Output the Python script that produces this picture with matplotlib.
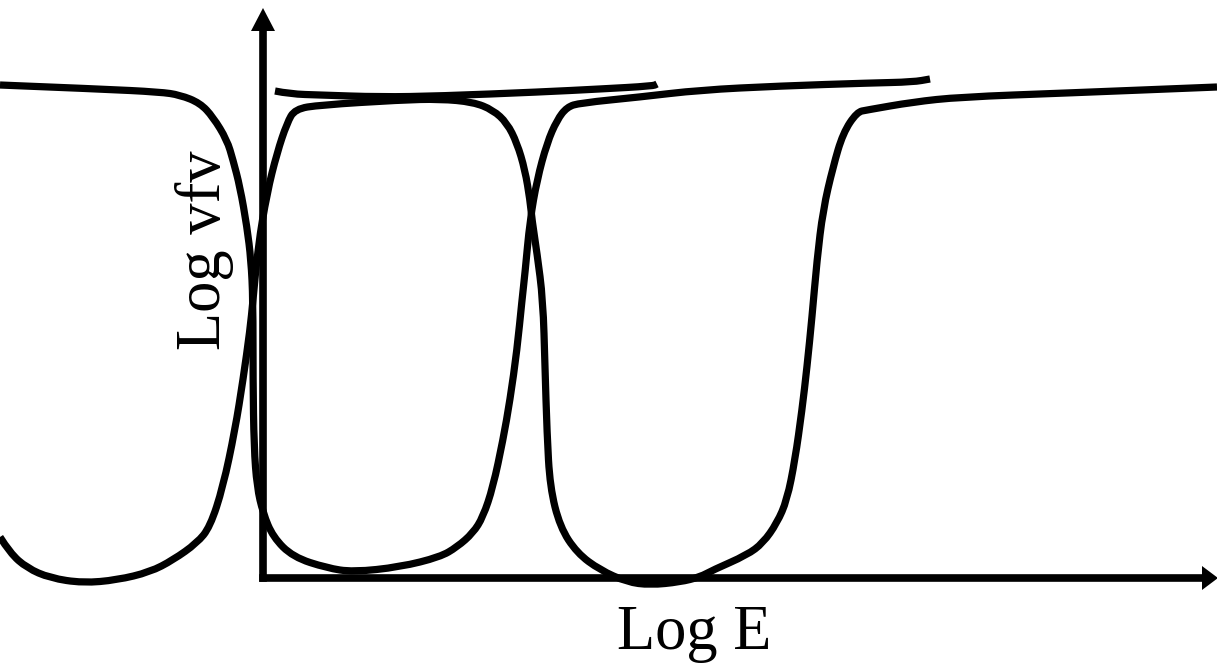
import matplotlib
matplotlib.use("Agg")
import matplotlib.pyplot as plt
from matplotlib.path import Path
from matplotlib.patches import PathPatch

plt.rcParams['font.family'] = ['Liberation Serif', 'DejaVu Serif']

# ---- data (schematic coordinates, image-pixel units) ----
curve_a_x = [0, 100, 160, 180, 200, 213, 227, 233, 240, 247, 251, 253, 253, 254, 257, 263, 273,
             293, 327, 353, 400, 440, 457, 473, 483, 493, 503, 510, 517, 522, 525, 530, 537,
             547, 557, 567, 580, 640, 700, 780, 870, 913, 930]
curve_a_y = [85, 89, 92, 95, 103, 117, 140, 160, 187, 227, 260, 300, 380, 447, 487, 513, 537,
             557, 568, 572, 567, 557, 547, 533, 517, 487, 440, 400, 350, 300, 273, 220, 180,
             143, 120, 107, 103, 97, 90, 86, 83, 82, 79]

curve_b_x = [0, 10, 27, 50, 83, 117, 150, 173, 197, 210, 223, 235, 243, 250, 253, 258, 267,
             277, 287, 295, 320, 400, 440, 473, 493, 507, 517, 525, 530, 532, 537, 543, 545,
             547, 550, 560, 577, 600, 627, 650, 680, 700, 713, 747, 763, 777, 787, 795, 802,
             807, 812, 817, 823, 833, 843, 857, 867, 913, 960, 1067, 1217]
curve_b_y = [537, 553, 568, 578, 583, 580, 572, 560, 543, 527, 487, 430, 380, 330, 300, 247, 193,
             153, 123, 109, 105, 100, 99, 102, 110, 123, 143, 170, 200, 220, 253, 300, 367,
             433, 487, 527, 553, 570, 582, 585, 582, 577, 570, 555, 543, 523, 500, 460, 410,
             367, 317, 260, 210, 167, 133, 112, 110, 102, 97, 93, 87]

line_t_x = [275, 290, 320, 380, 440, 540, 600, 653, 657]
line_t_y = [91, 94, 95, 97, 96, 92, 89, 86, 84]

# axes geometry (origin, ends)
axis_origin = (263, 578)
y_axis_tip = 8
x_axis_tip = 1217
arrow_len = 23
arrow_halfw = 12

x_label = "Log E"
y_label = "Log vfv"


def smooth_path(xs, ys):
    """Path through the read points, drawn with quadratic Bezier segments."""
    pts = list(zip(xs, ys))
    verts = [pts[0]]
    codes = [Path.MOVETO]
    for i in range(1, len(pts) - 1):
        mid = ((pts[i][0] + pts[i + 1][0]) / 2, (pts[i][1] + pts[i + 1][1]) / 2)
        verts += [pts[i], mid]
        codes += [Path.CURVE3, Path.CURVE3]
    verts.append(pts[-1])
    codes.append(Path.LINETO)
    return Path(verts, codes)


# ---- figure ----
fig = plt.figure(figsize=(12.17, 6.63), dpi=100)
ax = fig.add_axes([0, 0, 1, 1])
ax.set_xlim(0, 1217)
ax.set_ylim(663, 0)
ax.axis('off')

lw = 5.2
for xs, ys in [(curve_a_x, curve_a_y), (curve_b_x, curve_b_y), (line_t_x, line_t_y)]:
    ax.add_patch(PathPatch(smooth_path(xs, ys), facecolor='none', edgecolor='black',
                           lw=lw, capstyle='butt', joinstyle='round'))

ox, oy = axis_origin
axis_style = dict(color='black', lw=5.5, solid_capstyle='projecting')
# y axis
ax.plot([ox, ox], [oy, y_axis_tip + arrow_len - 2], **axis_style)
ax.fill([ox - arrow_halfw, ox + arrow_halfw, ox], [y_axis_tip + arrow_len, y_axis_tip + arrow_len, y_axis_tip],
        color='black', lw=0)
# x axis
ax.plot([ox, x_axis_tip - 15 + 2], [oy, oy], **axis_style)
ax.fill([x_axis_tip - 15, x_axis_tip - 15, x_axis_tip + 1], [oy - arrow_halfw, oy + arrow_halfw, oy],
        color='black', lw=0)

ax.text(694, 649, x_label, fontsize=45, ha='center', va='baseline')
ax.text(220, 250, y_label, fontsize=45, ha='center', va='baseline', rotation=90,
        rotation_mode='anchor')

fig.savefig('out.png', dpi=100)
